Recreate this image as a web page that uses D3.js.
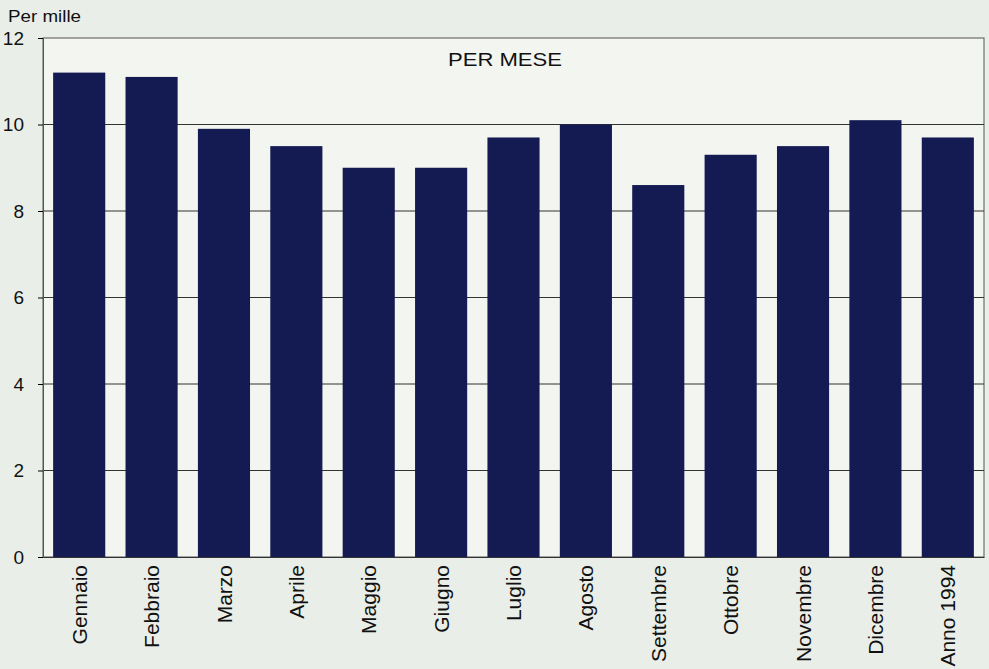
<!DOCTYPE html>
<html>
<head>
<meta charset="utf-8">
<script src="https://cdn.jsdelivr.net/npm/d3@7"></script>
<style>
  body { margin: 0; background: #e9eee8; }
  svg { display: block; font-family: "Liberation Sans", Arial, sans-serif; }
</style>
</head>
<body>
<svg id="chart"></svg>
<script>
var months = ['Gennaio', 'Febbraio', 'Marzo', 'Aprile', 'Maggio', 'Giugno', 'Luglio',
              'Agosto', 'Settembre', 'Ottobre', 'Novembre', 'Dicembre', 'Anno 1994'];
var rates = [11.2, 11.1, 9.9, 9.5, 9.0, 9.0, 9.7, 10.0, 8.6, 9.3, 9.5, 10.1, 9.7];
var yTicks = [0, 2, 4, 6, 8, 10, 12];

var width = 989;
var height = 669;
var margin = {top: 38, right: 5, bottom: 112, left: 43};
var font = '"Liberation Sans", Arial, sans-serif';

var svg = d3.select('#chart')
            .attr('width', width)
            .attr('height', height);

var x = d3.scaleBand()
          .domain(months)
          .range([margin.left, width - margin.right])
          .paddingInner(0.28)
          .paddingOuter(0.14);

var y = d3.scaleLinear()
          .domain([0, 12])
          .range([height - margin.bottom, margin.top]);

// plot background
svg.append('rect')
   .attr('x', margin.left)
   .attr('y', margin.top)
   .attr('width', width - margin.right - margin.left)
   .attr('height', height - margin.bottom - margin.top)
   .attr('fill', '#f3f5f0')
   .attr('stroke', '#555')
   .attr('stroke-width', 1);

// grid lines
svg.append('g')
   .selectAll('line')
   .data(yTicks.slice(1, -1))
   .enter()
   .append('line')
   .attr('x1', margin.left)
   .attr('x2', width - margin.right)
   .attr('y1', function(d){ return y(d); })
   .attr('y2', function(d){ return y(d); })
   .attr('stroke', '#333')
   .attr('stroke-width', 1);

svg.selectAll('rect.bar')
   .data(rates)
   .enter()
   .append('rect')
   .attr('class', 'bar')
   .attr('x', function(d, i){ return x(months[i]); })
   .attr('y', function(d){ return y(d); })
   .attr('width', x.bandwidth())
   .attr('height', function(d){ return y(0) - y(d); })
   .attr('fill', '#141a52');

// y axis
var yAxis = svg.append('g')
   .attr('transform', 'translate(' + margin.left + ',0)')
   .call(d3.axisLeft(y).tickValues(yTicks).tickSize(5).tickPadding(14));
yAxis.select('.domain').attr('stroke', '#555');
yAxis.selectAll('text')
     .attr('font-size', 19)
     .attr('fill', '#111')
     .attr('font-family', font);

// x axis labels
var xAxis = svg.append('g')
   .attr('transform', 'translate(0,' + y(0) + ')')
   .call(d3.axisBottom(x).tickSize(0).tickPadding(0));
xAxis.select('.domain').attr('stroke', '#333');
xAxis.selectAll('text')
     .attr('font-size', 21)
     .attr('fill', '#111')
     .attr('font-family', font)
     .attr('text-anchor', 'end')
     .attr('dy', '0.36em')
     .attr('transform', 'translate(0,8) rotate(-90)')
     .attr('x', 0)
     .attr('y', 0);

svg.append('text')
   .attr('x', 8)
   .attr('y', 22)
   .attr('font-size', 17)
   .attr('textLength', 73)
   .attr('lengthAdjust', 'spacingAndGlyphs')
   .attr('fill', '#111')
   .text('Per mille');

svg.append('text')
   .attr('x', 448)
   .attr('y', 66)
   .attr('font-size', 18)
   .attr('textLength', 114)
   .attr('lengthAdjust', 'spacingAndGlyphs')
   .attr('fill', '#111')
   .text('PER MESE');
</script>
</body>
</html>
